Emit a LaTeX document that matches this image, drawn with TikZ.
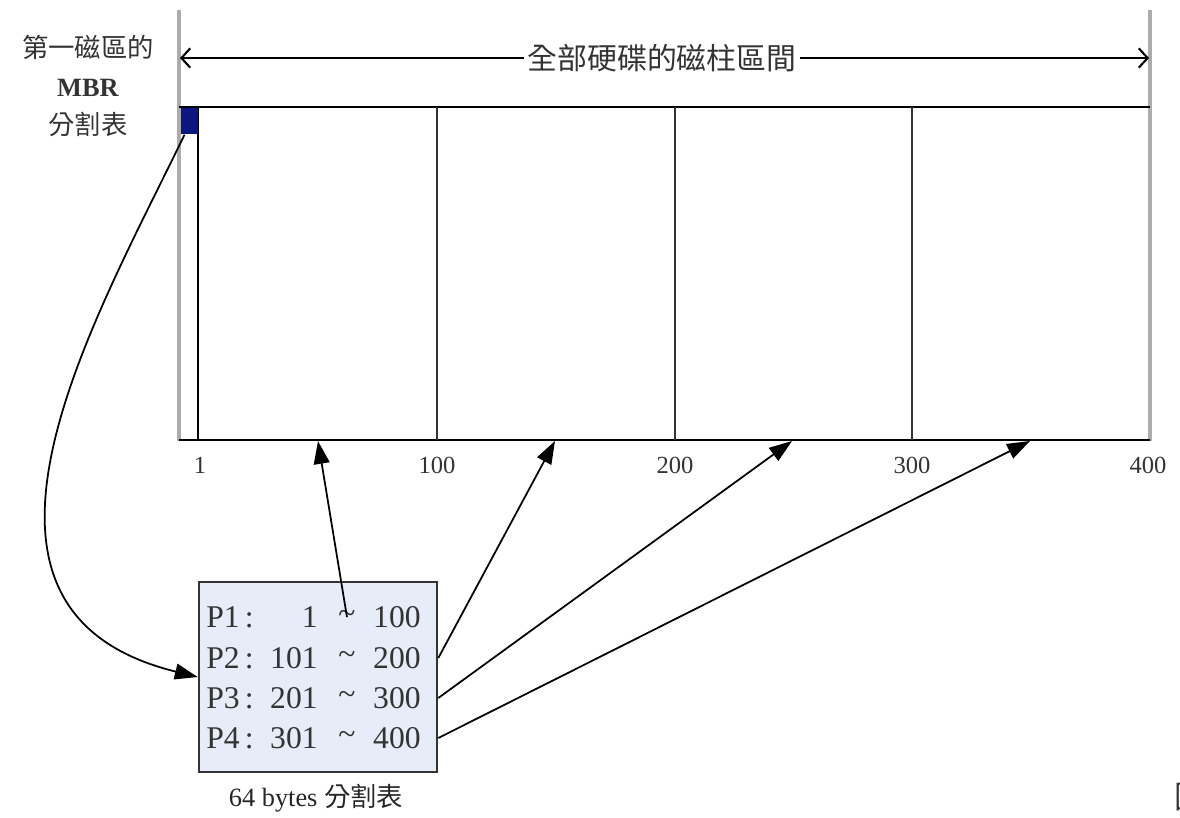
\documentclass[tikz,border=0pt]{standalone}
\usepackage{fontspec}
\setmainfont{Liberation Serif}
\newfontfamily\cjk{Noto Sans CJK TC}
\usetikzlibrary{arrows.meta}
\definecolor{mbrblue}{RGB}{12,22,128}
\definecolor{tablefill}{RGB}{230,237,248}
\tikzset{
  edgeline/.style={draw=gray!65, line width=2pt},
  partline/.style={draw=black!80, line width=1.6pt},
  ptr/.style={-{Triangle[length=13pt,width=9pt]}, line width=1pt},
  rowtext/.style={inner sep=0, text=black!80, font=\fontsize{18}{20}\selectfont},
}

\begin{document}
\begin{tikzpicture}[x=0.02cm,y=-0.02cm]
\useasboundingbox (0,0) rectangle (1180,818);
%disk
\draw[edgeline] (179,10)--(179,441);
\draw[edgeline] (1150,10)--(1150,441);
\draw[line width=1.2pt] (179,107)--(1150,107);
\draw[line width=1.2pt] (179,440)--(1150,440);
\draw[line width=1.2pt] (198,107)--(198,440);
\foreach \x in {437,675,912}
    \draw[partline] (\x,107)--(\x,440);
\node (mbr) [fill=mbrblue, inner sep=0, minimum width=0.34cm, minimum height=0.52cm, anchor=north west] at (181,108) {};
%range
\draw[{Straight Barb[length=5pt,width=11pt]}-{Straight Barb[length=5pt,width=11pt]}, line width=1.2pt] (180,58)--(1149,58);
\node (range) [fill=white, inner sep=2pt, text=black!80, font=\fontsize{17}{20}\selectfont\cjk] at (662,58) {全部硬碟的磁柱區間};
\node (first) [align=center, text=black!80, font=\fontsize{15}{22}\selectfont] at (88,86)
    {{\cjk 第一磁區的}\\\textbf{MBR}\\{\cjk 分割表}};
%cylinders
\foreach \x/\xtext in {200/1,437/100,675/200,912/300,1148/400}
    \node[text=black!80, font=\fontsize{14}{16}\selectfont] at (\x,465) {\xtext};
\foreach \i/\x in {1/318,2/555,3/792,4/1030}
    \coordinate (c\i) at (\x,441);
%table
\node (tbl) [draw=black!80, line width=1.5pt, fill=tablefill, inner sep=0, minimum width=4.76cm, minimum height=3.8cm] at (318,677) {};
\foreach \i/\y/\a/\b in {1/617/1/100,2/658/101/200,3/698/201/300,4/738/301/400}{
    \node (p\i) [rowtext, anchor=west] at (206,\y) {P\i\,:};
    \node (a\i) [rowtext, anchor=east] at (318,\y) {\a};
    \node (t\i) [rowtext] at (347,\y) {\char`\~};
    \node (b\i) [rowtext, anchor=east] at (421,\y) {\b};
}
\node (cap) [text=black!85, font=\fontsize{15}{18}\selectfont] at (316,798) {64 bytes {\cjk 分割表}};
%arrows
\draw[ptr] ([xshift=2pt]mbr.south west) .. controls (95,320) and (-75,610) .. (tbl.west);
\draw[ptr] ([yshift=-4pt]t1.north) -- (c1);
\foreach \i in {2,3,4}
    \draw[ptr] (tbl.east |- p\i) -- (c\i);
\node (cut) [anchor=west, inner sep=0, text=black!80, font=\fontsize{18}{20}\selectfont\cjk] at (1174,797) {圖};
\end{tikzpicture}
\end{document}
